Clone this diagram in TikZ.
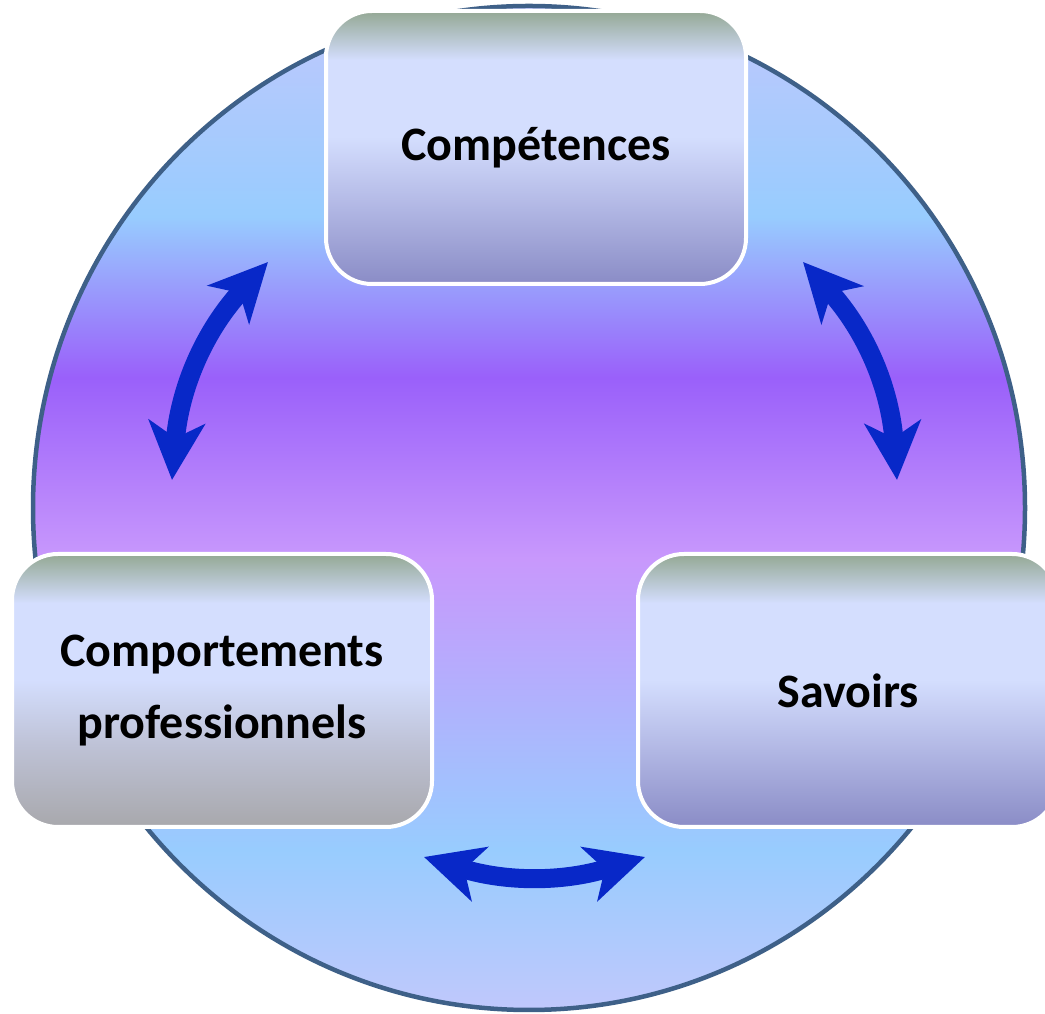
\documentclass[tikz,border=0pt]{standalone}
\usepackage{fontspec}
\setmainfont{Carlito}
\usetikzlibrary{arrows.meta,shapes.geometric}

\definecolor{ringline}{HTML}{3E6088}
\definecolor{ringA}{HTML}{C0C8FC}
\definecolor{ringB}{HTML}{98CCFE}
\definecolor{ringC}{HTML}{9A60FA}
\definecolor{ringD}{HTML}{C898FC}
\definecolor{boxtop}{HTML}{94A894}
\definecolor{boxlight}{HTML}{D4DEFE}
\definecolor{boxmid}{HTML}{B4BAE6}
\definecolor{boxlow}{HTML}{8A8CC6}
\definecolor{boxgraymid}{HTML}{BEC2D6}
\definecolor{boxgray}{HTML}{A8A8AC}
\definecolor{arrowblue}{HTML}{0828C8}

\pgfdeclareverticalshading{ringshade}{100bp}{color(0bp)=(ringA); color(25bp)=(ringA);
  color(33bp)=(ringB); color(47.5bp)=(ringD); color(56.5bp)=(ringC);
  color(64.5bp)=(ringB); color(75bp)=(ringA); color(100bp)=(ringA)}
\pgfdeclareverticalshading{boxshade}{100bp}{color(0bp)=(boxlow); color(25bp)=(boxlow);
  color(40bp)=(boxmid); color(52bp)=(boxlight); color(66bp)=(boxlight);
  color(75bp)=(boxtop); color(100bp)=(boxtop)}
\pgfdeclareverticalshading{grayshade}{100bp}{color(0bp)=(boxgray); color(25bp)=(boxgray);
  color(40bp)=(boxgraymid); color(52bp)=(boxlight); color(66bp)=(boxlight);
  color(75bp)=(boxtop); color(100bp)=(boxtop)}

\tikzset{
  topic/.style={rounded corners=46pt, draw=white, line width=4pt,
    shading=boxshade, minimum width=420pt, minimum height=273pt,
    align=center, font=\fontsize{48}{72}\selectfont\bfseries},
  twoway/.style={draw=arrowblue, line width=19pt,
    {Stealth[length=58pt,width=56pt,inset=16pt]}-{Stealth[length=58pt,width=56pt,inset=16pt]}}
}

\begin{document}
\begin{tikzpicture}[x=1pt,y=1pt]
  \clip (0,0) rectangle (1045,1014);
  \useasboundingbox (0,0) rectangle (1045,1014);

  \node[ellipse, draw=ringline, line width=4.5pt, shading=ringshade,
    minimum width=992pt, minimum height=1004pt] (ring) at (529,506) {};

  \node[topic] (comp) at (536,866.5) {Compétences};
  \node[topic, shading=grayshade] (behav) at (222,323.5) {Comportements\\professionnels};
  \node[topic] (know) at (848,323.5) {Savoirs};

  \coordinate (l1) at (268,752);
  \coordinate (l2) at (172,534);
  \coordinate (r1) at (803,752);
  \coordinate (r2) at (897,534);
  \coordinate (b1) at (424,157);
  \coordinate (b2) at (645,157);

  \draw[twoway] (l1) to[bend right=19] (l2);
  \draw[twoway] (r1) to[bend left=19] (r2);
  \draw[twoway] (b1) to[bend right=17] (b2);
\end{tikzpicture}
\end{document}
